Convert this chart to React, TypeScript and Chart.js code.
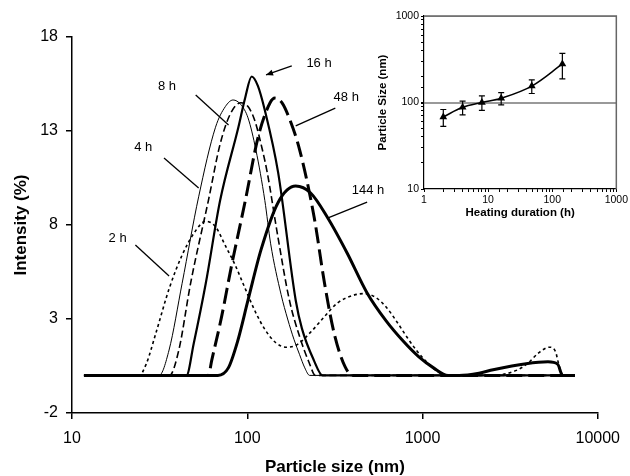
import React, { useEffect, useRef } from 'react';
import { Chart, registerables } from 'chart.js';

Chart.register(...registerables);

const FONT = 'Arial, "Liberation Sans", Helvetica, sans-serif';

// ---------- main chart data ----------
const xTicks = [10, 100, 1000, 10000];
const yTicks = [-2, 3, 8, 13, 18];

const x2h = [11.7, 24.2, 26.5, 30, 35.8, 42.5, 50.8, 58, 66, 75, 85, 97.5, 111, 127, 145, 166, 190, 230, 280, 327, 400, 464, 540, 625, 720, 820, 930, 1060, 1200, 1350, 2500, 3500, 4000, 4600, 5300, 5750, 5950, 6350, 7400];
const y2h = [0, 0, 0.6, 2.2, 4.6, 6.4, 7.7, 8.2, 7.9, 6.9, 5.9, 4.6, 3.4, 2.4, 1.75, 1.5, 1.6, 2.3, 3.2, 3.85, 4.25, 4.35, 4.15, 3.6, 2.8, 2.0, 1.3, 0.7, 0.25, 0, 0, 0.3, 0.66, 1.2, 1.5, 1.25, 0.7, 0, 0];

const x4h = [11.7, 31.4, 35.8, 42.5, 52.8, 65.9, 75, 83, 92, 101, 112, 126, 136, 156, 170, 185, 199, 213, 227, 7400];
const y4h = [0, 0, 1.35, 4.9, 9.5, 13.2, 14.3, 14.65, 14.4, 13.7, 12.0, 9.3, 7.0, 4.3, 3.0, 1.9, 1.1, 0.4, 0, 0];

const x8h = [11.7, 36, 40.7, 47.5, 60, 70, 80, 92, 101, 110, 122, 130, 150, 174, 200, 225, 245, 7400];
const y8h = [0, 0, 1.35, 4.9, 9.3, 12.3, 13.9, 14.5, 14.3, 13.6, 12.0, 10.8, 7.3, 4.0, 2.0, 0.7, 0, 0];

const x16h = [11.7, 45, 49.5, 58, 70, 89, 97.5, 106, 115, 126, 150, 189, 205, 240, 269, 7400];
const y16h = [0, 0, 1.7, 4.9, 9.3, 13.2, 14.8, 15.9, 15.4, 14.1, 10.8, 4.0, 2.5, 0.8, 0, 0];

const x48h = [11.7, 60, 62.7, 71.3, 81.2, 97.5, 115.5, 135, 144, 158, 175, 199, 241, 276, 314, 362, 400, 7400];
const y48h = [0, 0, 0.8, 3.1, 5.8, 9.3, 12.7, 14.5, 14.75, 14.5, 13.6, 12.0, 8.4, 4.9, 2.2, 0.45, 0, 0];

const x144h = [11.7, 68, 78, 88, 101, 120, 150, 189, 230, 287, 372, 482, 620, 780, 950, 1156, 1400, 1617, 2100, 2530, 3900, 5200, 5900, 6300, 7400];
const y144h = [0, 0, 0.4, 1.8, 4.0, 6.7, 9.2, 10.07, 9.7, 8.4, 6.5, 4.4, 2.9, 1.8, 1.0, 0.4, 0, 0, 0.12, 0.3, 0.62, 0.72, 0.6, 0, 0];

// ---------- inset data ----------
const durations = [2, 4, 8, 16, 48, 144];
const sizes = [68, 88, 100, 112, 155, 279];
const sizeErr = [15, 16, 19, 18, 28, 91];

// annotation labels (data coordinates)
const annotations = [
  { text: '2 h', tx: 18.2, ty: 7.26, x1: 23.0, y1: 6.94, x2: 35.8, y2: 5.29, arrow: false },
  { text: '4 h', tx: 25.5, ty: 12.15, x1: 33.5, y1: 11.56, x2: 52.8, y2: 9.97, arrow: false },
  { text: '8 h', tx: 34.8, ty: 15.39, x1: 50.8, y1: 14.91, x2: 78.2, y2: 13.32, arrow: false },
  { text: '16 h', tx: 256.8, ty: 16.62, x1: 179.5, y1: 16.46, x2: 128, y2: 15.98, arrow: true },
  { text: '48 h', tx: 367, ty: 14.76, x1: 318, y1: 14.22, x2: 189, y2: 13.27, arrow: false },
  { text: '144 h', tx: 489, ty: 9.86, x1: 483, y1: 9.22, x2: 287, y2: 8.37, arrow: false },
];

const pts = (xs: number[], ys: number[]) => xs.map((v, i) => ({ x: v, y: ys[i] }));

const annotationPlugin = {
  id: 'annot',
  afterDatasetsDraw(chart: any) {
    const { ctx, scales } = chart;
    const sx = scales.x, sy = scales.y;
    ctx.save();
    ctx.strokeStyle = '#000';
    ctx.fillStyle = '#000';
    ctx.lineWidth = 1.3;
    ctx.font = `13px ${FONT}`;
    ctx.textAlign = 'center';
    ctx.textBaseline = 'middle';
    for (const a of annotations) {
      const px1 = sx.getPixelForValue(a.x1), py1 = sy.getPixelForValue(a.y1);
      const px2 = sx.getPixelForValue(a.x2), py2 = sy.getPixelForValue(a.y2);
      ctx.beginPath();
      ctx.moveTo(px1, py1);
      ctx.lineTo(px2, py2);
      ctx.stroke();
      if (a.arrow) {
        const ang = Math.atan2(py2 - py1, px2 - px1);
        const L = 7, W = 3;
        ctx.beginPath();
        ctx.moveTo(px2, py2);
        ctx.lineTo(px2 - L * Math.cos(ang) + W * Math.sin(ang), py2 - L * Math.sin(ang) - W * Math.cos(ang));
        ctx.lineTo(px2 - L * Math.cos(ang) - W * Math.sin(ang), py2 - L * Math.sin(ang) + W * Math.cos(ang));
        ctx.closePath();
        ctx.fill();
      }
      ctx.fillText(a.text, sx.getPixelForValue(a.tx), sy.getPixelForValue(a.ty));
    }
    ctx.restore();
  },
};

const errorBarPlugin = {
  id: 'errbars',
  afterDatasetsDraw(chart: any) {
    const { ctx, scales } = chart;
    ctx.save();
    ctx.strokeStyle = '#000';
    ctx.lineWidth = 1.2;
    durations.forEach((d, i) => {
      const px = scales.x.getPixelForValue(d);
      const lo = scales.y.getPixelForValue(sizes[i] - sizeErr[i]);
      const hi = scales.y.getPixelForValue(sizes[i] + sizeErr[i]);
      ctx.beginPath();
      ctx.moveTo(px, lo); ctx.lineTo(px, hi);
      ctx.moveTo(px - 3, lo); ctx.lineTo(px + 3, lo);
      ctx.moveTo(px - 3, hi); ctx.lineTo(px + 3, hi);
      ctx.stroke();
    });
    ctx.restore();
  },
};

const insetBorderPlugin = {
  id: 'insetBorder',
  afterDraw(chart: any) {
    const { ctx, chartArea } = chart;
    ctx.save();
    ctx.strokeStyle = '#666';
    ctx.lineWidth = 1.5;
    ctx.beginPath();
    ctx.moveTo(chartArea.left, chartArea.top);
    ctx.lineTo(chartArea.right, chartArea.top);
    ctx.lineTo(chartArea.right, chartArea.bottom);
    ctx.stroke();
    ctx.restore();
  },
};

const isPow10 = (v: number) => Math.abs(Math.log10(v) - Math.round(Math.log10(v))) < 1e-9;

export default function App() {
  const mainRef = useRef<HTMLCanvasElement>(null);
  const insetRef = useRef<HTMLCanvasElement>(null);

  useEffect(() => {
    const tickFont = { family: FONT, size: 16 };
    const titleFont = { family: FONT, size: 17, weight: 'bold' as const, lineHeight: 1 };
    const line = (data: any, width: number, dash: number[]) => ({
      data,
      borderColor: '#000',
      borderWidth: width,
      borderDash: dash,
      pointRadius: 0,
      fill: false,
      cubicInterpolationMode: 'monotone' as const,
      borderCapStyle: 'butt' as const,
    });
    const main = new Chart(mainRef.current!, {
      type: 'line',
      data: {
        datasets: [
          line(pts(x2h, y2h), 1.6, [3, 3]),
          line(pts(x4h, y4h), 1, []),
          line(pts(x8h, y8h), 1.6, [7, 3.5]),
          line(pts(x16h, y16h), 2.2, []),
          line(pts(x48h, y48h), 3, [16, 6]),
          line(pts(x144h, y144h), 3, []),
        ],
      },
      options: {
        animation: false,
        responsive: false,
        maintainAspectRatio: false,
        layout: { padding: { top: 37, right: 27, left: 0, bottom: 0 } },
        plugins: { legend: { display: false }, tooltip: { enabled: false } },
        scales: {
          x: {
            type: 'logarithmic',
            min: 10,
            max: 10000,
            afterBuildTicks: (s: any) => { s.ticks = xTicks.map((v) => ({ value: v })); },
            afterFit: (s: any) => { s.height = 63; },
            ticks: { callback: (v: any) => String(v), font: tickFont, color: '#000', padding: 10, maxRotation: 0, autoSkip: false },
            grid: { drawOnChartArea: false, drawTicks: true, tickLength: 6, color: '#000', lineWidth: 1.5 },
            border: { color: '#000', width: 1.5 },
            title: { display: true, text: 'Particle size (nm)', font: titleFont, color: '#000', padding: { top: 0, bottom: 0.5 } },
          },
          y: {
            type: 'linear',
            min: -2,
            max: 18,
            afterBuildTicks: (s: any) => { s.ticks = yTicks.map((v) => ({ value: v })); },
            afterFit: (s: any) => { s.width = 72; },
            ticks: { callback: (v: any) => String(v), font: tickFont, color: '#000', padding: 8, autoSkip: false },
            grid: { drawOnChartArea: false, drawTicks: true, tickLength: 6, color: '#000', lineWidth: 1.5 },
            border: { color: '#000', width: 1.5 },
            title: { display: true, text: 'Intensity (%)', font: { family: FONT, size: 17, weight: 'bold' as const, lineHeight: 1.2 }, color: '#000', padding: { top: 11, bottom: 0 } },
          },
        },
      },
      plugins: [annotationPlugin],
    } as any);

    const insetTick = { family: FONT, size: 10.5 };
    const insetTitle = { family: FONT, size: 11.5, weight: 'bold' as const, lineHeight: 1.2 };
    const inset = new Chart(insetRef.current!, {
      type: 'line',
      data: {
        labels: durations,
        datasets: [
          {
            data: pts(durations, sizes),
            borderColor: '#000',
            backgroundColor: '#000',
            borderWidth: 1.5,
            tension: 0.35,
            pointStyle: 'triangle',
            pointRadius: 4.5,
            pointBorderWidth: 0,
            pointBackgroundColor: '#000',
            fill: false,
          },
        ],
      },
      options: {
        animation: false,
        responsive: false,
        maintainAspectRatio: false,
        layout: { padding: { top: 16, right: 11, left: 0, bottom: 0 } },
        plugins: { legend: { display: false }, tooltip: { enabled: false } },
        scales: {
          x: {
            type: 'logarithmic',
            min: 1,
            max: 1000,
            afterFit: (s: any) => { s.height = 36; },
            ticks: { callback: (v: any) => (isPow10(v) ? String(v) : ''), font: insetTick, color: '#000', padding: 2, maxRotation: 0, autoSkip: false },
            grid: { drawOnChartArea: false, drawTicks: true, tickLength: 3, color: '#000', lineWidth: 1 },
            border: { color: '#000', width: 1.2 },
            title: { display: true, text: 'Heating duration (h)', font: insetTitle, color: '#000', padding: { top: 0, bottom: 5 } },
          },
          y: {
            type: 'logarithmic',
            min: 10,
            max: 1000,
            afterFit: (s: any) => { s.width = 54; },
            ticks: { callback: (v: any) => (isPow10(v) ? String(v) : ''), font: insetTick, color: '#000', padding: 2, autoSkip: false },
            grid: {
              drawOnChartArea: true,
              drawTicks: true,
              tickLength: 3,
              color: (c: any) => (c.tick && (c.tick.value === 100 || c.tick.value === 1000) ? '#999' : 'rgba(0,0,0,0)'),
              tickColor: '#000',
              lineWidth: (c: any) => (c.tick && c.tick.value === 100 ? 2 : 1),
            },
            border: { color: '#000', width: 1.2 },
            title: { display: true, text: 'Particle Size (nm)', font: insetTitle, color: '#000', padding: { top: 6, bottom: 0 } },
          },
        },
      },
      plugins: [errorBarPlugin, insetBorderPlugin],
    } as any);

    return () => {
      main.destroy();
      inset.destroy();
    };
  }, []);

  return (
    <div style={{ position: 'absolute', left: 0, top: 0, width: 630, height: 476, background: '#fff' }}>
      <canvas ref={mainRef} width={630} height={476} style={{ position: 'absolute', left: 0, top: 0, display: 'block' }} />
      <canvas ref={insetRef} width={260} height={225} style={{ position: 'absolute', left: 370, top: 0, display: 'block' }} />
    </div>
  );
}
